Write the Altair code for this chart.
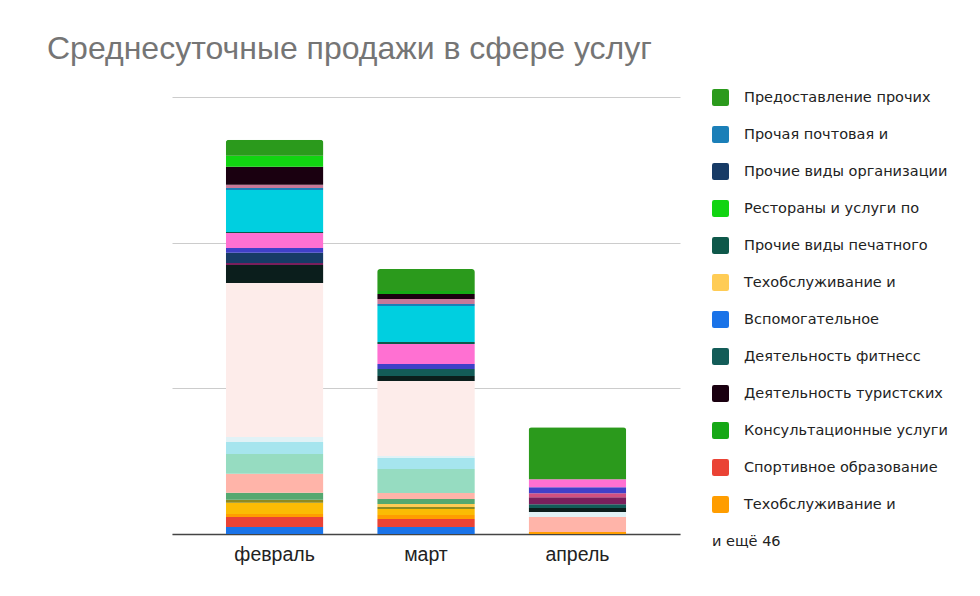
import altair as alt
import pandas as pd

months = ["февраль", "март", "апрель"]

# series, from the bottom of each stack to the top
series = [
    "Вспомогательное",
    "Спортивное образование",
    "Техобслуживание и ",
    "Ремонт прочих предметов",
    "Прочие персональные услуги",
    "Техобслуживание и",
    "Консультационные услуги по",
    "Деятельность парикмахерских",
    "Стирка и химическая чистка",
    "Деятельность в области фотографии",
    "Ремонт обуви",
    "Деятельность по организации отдыха",
    "Деятельность кинотеатров",
    "Деятельность фитнесс",
    "Деятельность по уходу",
    "Образование дополнительное",
    "Прочие виды организации",
    "Деятельность музеев",
    "Деятельность салонов красоты",
    "Прочие виды печатного",
    "Деятельность гостиниц",
    "Прочая почтовая и",
    "Аренда и лизинг",
    "Деятельность туристских",
    "Консультационные услуги",
    "Рестораны и услуги по",
    "Предоставление прочих",
]
feb = [4.8, 6.9, 2.1, 7.6, 2.1, 0.0, 4.8, 13.0, 13.7, 8.2, 3.4, 105.7, 12.4, 0.0, 1.4,
       0.0, 6.9, 3.4, 10.3, 0.7, 28.8, 1.4, 2.1, 12.4, 0.0, 7.6, 11.0]
mar = [4.8, 5.5, 2.7, 4.1, 1.4, 2.1, 3.4, 4.1, 16.5, 7.6, 1.4, 51.5, 3.4, 4.8, 0.0,
       0.0, 0.0, 3.4, 13.7, 1.4, 24.7, 1.4, 3.4, 3.4, 2.1, 0.0, 15.1]
apr = [0.0, 0.0, 1.4, 0.0, 0.0, 0.0, 0.0, 10.3, 0.0, 0.0, 3.4, 0.0, 2.7, 2.7, 4.8,
       2.7, 0.0, 4.1, 5.5, 0.0, 0.0, 0.0, 0.0, 0.0, 0.0, 0.0, 35.7]
colors = [
    "#1a73e8", "#ea4335", "#ff9d00", "#fbbc04", "#8c8a22", "#ffcc55", "#55a870",
    "#ffb4a9", "#96dcc1", "#a6e5ee", "#e1f2f6", "#fdecea", "#0b1e1c", "#135c58",
    "#7a1f5c", "#d05080", "#173b66", "#4040c8", "#ff70d2", "#0e584a", "#00cfe0",
    "#1b7fb8", "#c87898", "#1a0010", "#16a816", "#11d411", "#2b9a1c",
]
legend_names = [
    "Предоставление прочих",
    "Прочая почтовая и",
    "Прочие виды организации",
    "Рестораны и услуги по",
    "Прочие виды печатного",
    "Техобслуживание и",
    "Вспомогательное",
    "Деятельность фитнесс",
    "Деятельность туристских",
    "Консультационные услуги",
    "Спортивное образование",
    "Техобслуживание и ",
]
more_text = "и ещё 46"
title_text = "Среднесуточные продажи в сфере услуг"

rows = []
for i, s in enumerate(series):
    for m, vals in zip(months, [feb, mar, apr]):
        if vals[i] > 0:
            rows.append({"month": m, "series": s, "value": vals[i], "order": i})
df = pd.DataFrame(rows)

FONT = "Liberation Sans"
LEGEND_FONT = "DejaVu Sans"
rounded_square = ("M-0.75,-1H0.75Q1,-1,1,-0.75V0.75Q1,1,0.75,1H-0.75Q-1,1,-1,0.75"
                  "V-0.75Q-1,-1,-0.75,-1Z")

bars = alt.Chart(df).mark_bar(
    cornerRadiusTopLeft=3, cornerRadiusTopRight=3
).encode(
    x=alt.X("month:N", sort=months,
            scale=alt.Scale(paddingInner=0.355, paddingOuter=0.355),
            axis=alt.Axis(title=None, labelAngle=0, ticks=False, labelFontSize=19.5,
                          labelColor="#222222", labelPadding=11, labelFont=FONT,
                          domainColor="#444444", domainWidth=1.5, grid=False)),
    y=alt.Y("value:Q", stack="zero",
            scale=alt.Scale(domain=[0, 300], nice=False),
            axis=alt.Axis(values=[0, 100, 200, 300], labels=False, ticks=False,
                          domain=False, title=None, gridColor="#cccccc")),
    color=alt.Color("series:N",
                    scale=alt.Scale(domain=series, range=colors),
                    legend=alt.Legend(values=legend_names, title=None, orient="none",
                                      legendX=540, legendY=-8,
                                      symbolType=rounded_square, symbolSize=289,
                                      symbolStrokeWidth=0, rowPadding=20,
                                      labelOffset=15, labelFontSize=14.5,
                                      labelColor="#222222", labelFont=LEGEND_FONT,
                                      labelLimit=300)),
    order=alt.Order("order:Q", sort="ascending"),
)

more = alt.Chart(pd.DataFrame({"t": [more_text]})).mark_text(
    align="left", baseline="middle", fontSize=14.5, color="#222222", font=LEGEND_FONT
).encode(x=alt.value(540), y=alt.value(445), text="t:N")

chart = alt.layer(bars, more).properties(
    width=508, height=437,
    title=alt.TitleParams(title_text, anchor="start", fontSize=32, font=FONT,
                          fontWeight="normal", color="#757575", dx=-125, offset=23),
    autosize=alt.AutoSizeParams(type="none"),
    padding={"left": 172, "top": 97, "right": 300, "bottom": 62},
).configure_view(stroke=None)

chart.save("out.html", embed_options={"renderer": "svg", "actions": False})
